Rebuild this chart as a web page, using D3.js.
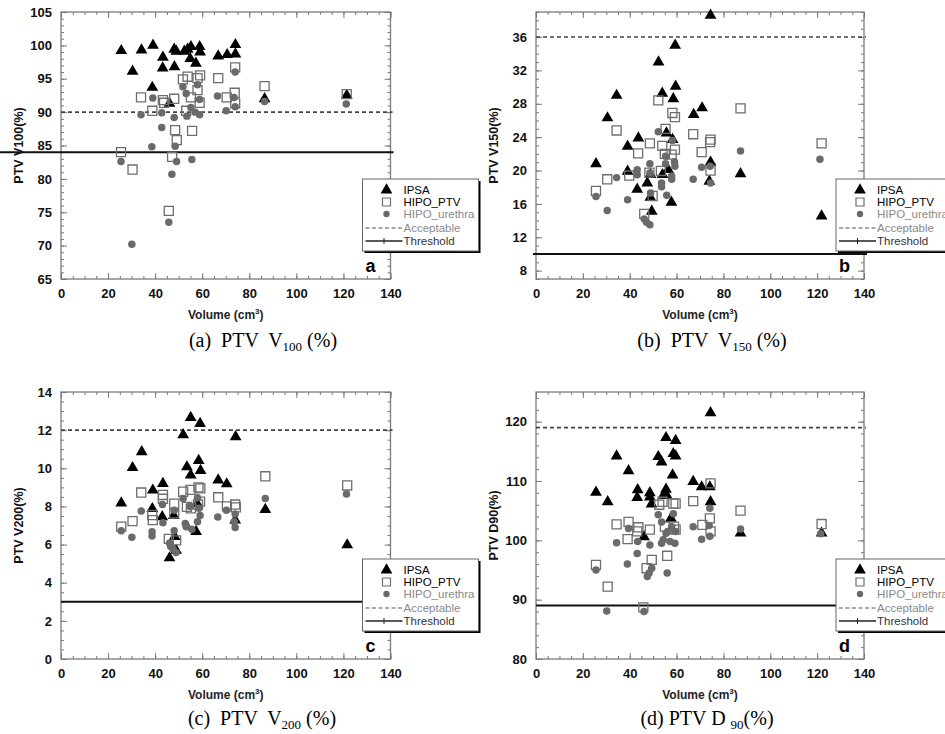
<!DOCTYPE html>
<html><head><meta charset="utf-8">
<script src="https://cdn.jsdelivr.net/npm/d3@7"></script>
<style>body{margin:0;background:#fff} svg{display:block}</style>
</head><body>
<svg id="chart" width="945" height="734"></svg>
<script>
// ---------- DATA ----------
const xTicks = [0,20,40,60,80,100,120,140];
const yTicksA = [65,70,75,80,85,90,95,100,105];
const yTicksB = [8,12,16,20,24,28,32,36];
const yTicksC = [0,2,4,6,8,10,12,14];
const yTicksD = [80,90,100,110,120];
const seriesNames = ["IPSA","HIPO_PTV","HIPO_urethra","Acceptable","Threshold"];

// Panel a: PTV V100 (%)  [volume, value]
const ipsaA = [[25.6,99.2],[30.4,96.1],[34.2,99.3],[39.1,100],[38.8,93.7],[43.3,98.2],[43.2,96.6],[46.1,91.3],[48.1,99.4],[49,99.1],[48.2,96.8],[52.4,99.1],[53.8,99.4],[55.2,99.8],[54.9,98],[57.3,97.3],[58.9,99.8],[59.1,99],[66.8,98.4],[70.6,98.6],[74.1,100.1],[74.1,98.7],[86.5,92.0],[121.4,92.5]];
const ptvA = [[25.5,84.0],[30.4,81.4],[34.0,92.2],[38.8,90.2],[43.3,91.8],[43.8,91.4],[48.1,92.0],[48.5,87.3],[49.2,85.8],[47.2,83.3],[45.8,75.2],[51.8,94.9],[53.8,95.3],[58,95.1],[59.1,95.5],[55.2,92.2],[58,93.3],[53.2,90.2],[55.7,87.2],[58.9,91.4],[66.8,95.1],[70.4,92.2],[74,96.7],[73.8,92.9],[74,91.3],[86.5,93.9],[121.4,92.7]];
const uretA = [[25.5,82.6],[30.1,70.2],[34,89.6],[38.6,84.8],[39,92.1],[42.8,89.9],[42.8,87.7],[47.1,80.7],[45.8,73.5],[48.1,89.2],[48.5,84.9],[49.1,82.6],[51.8,93.8],[53.2,92.8],[53.5,89.4],[55.2,90.7],[55.6,82.9],[57,90.0],[58,94.1],[58.9,91.9],[58.9,89.6],[66.5,92.4],[70.2,90.2],[73.5,92.2],[74,96.0],[74,90.8],[86.5,91.6],[121.2,91.2]];

// Panel b: PTV V150 (%)
const ipsaB = [[25.6,20.8],[30.5,26.3],[34.4,29.0],[39.1,22.9],[39.1,19.9],[43.7,23.9],[43.2,17.75],[47.5,18.5],[48.8,16.8],[49.4,15.1],[48.9,19.5],[52.3,33.0],[53.9,29.25],[54,19.5],[55.7,24.5],[58.6,28.6],[59.6,30.1],[59.4,35.0],[58.3,23.7],[57.8,16.2],[56.4,20.1],[67.3,26.7],[70.9,27.5],[74.5,38.6],[74.5,21.0],[74,18.7],[87.3,19.6],[121.9,14.55]];
const ptvB = [[25.6,17.55],[30.4,18.95],[34.4,24.8],[39.8,19.4],[43.6,22.05],[48.6,23.25],[46.2,14.8],[48.4,19.75],[49.8,16.95],[52.2,28.4],[53.9,22.95],[55.3,25.0],[55.0,22.0],[53.3,19.95],[58.2,26.9],[59.3,26.4],[59.3,22.5],[57.9,21.9],[67.1,24.35],[70.7,22.2],[74.5,23.7],[74.3,23.4],[74.5,20.0],[87.3,27.45],[121.9,23.25]];
const uretB = [[25.6,16.9],[30.4,15.2],[34.4,19.15],[39.1,16.5],[43.2,20.1],[43.2,19.5],[46.2,14.2],[47.2,13.8],[48.6,13.5],[48.6,20.8],[48.6,19.7],[48.9,17.3],[52.2,24.65],[53.6,18.5],[53.6,18.05],[55.3,21.7],[55.3,20.8],[55.8,17.05],[58.2,23.6],[59.1,21.05],[59.3,20.5],[57.9,18.95],[57.9,19.35],[67.1,18.95],[70.7,20.4],[74.5,18.5],[74.3,20.5],[87.3,22.35],[121.2,21.35]];

// Panel c: PTV V200 (%)
const ipsaC = [[25.6,8.18],[30.4,10.03],[34.3,10.86],[39,8.85],[38.8,7.88],[43.3,9.2],[43,7.45],[46.1,5.3],[47.9,7.52],[48.3,6.42],[48.9,5.7],[51.9,11.75],[53.5,10.07],[55.1,12.66],[55.1,9.64],[57.4,6.68],[58.5,10.4],[59.1,12.34],[59.3,9.88],[57.9,8.14],[66.8,9.38],[70.4,9.18],[74.2,11.65],[74,7.28],[86.8,7.84],[121.6,5.98]];
const ptvC = [[25.6,6.94],[30.4,7.23],[34.1,8.73],[38.8,7.55],[39,7.28],[43.3,8.6],[43.3,8.4],[48.1,8.15],[48.1,7.63],[45.8,6.3],[48.9,6.22],[51.9,8.77],[55,8.87],[58.4,9.0],[59.2,8.95],[53.5,7.98],[55.2,7.9],[58.2,8.1],[59.1,8.25],[66.8,8.48],[70.5,8.0],[74,8.1],[74.3,7.95],[86.8,9.58],[121.6,9.1]];
const uretC = [[25.6,6.73],[30.1,6.38],[34.1,7.76],[38.7,6.67],[38.7,6.45],[43.1,8.1],[43.3,7.14],[46.1,6.07],[46.6,5.9],[47.7,5.75],[48.9,5.58],[48.1,7.8],[48.1,6.73],[51.9,8.42],[52.8,7.1],[53.2,6.94],[53.2,7.0],[54.9,8.0],[55.6,6.8],[58,8.45],[58,7.2],[59.1,7.53],[58.6,7.9],[66.6,7.45],[70.3,7.8],[74,6.9],[74,7.6],[73.6,7.2],[86.8,8.42],[121.3,8.65]];

// Panel d: PTV D90 (%)
const ipsaD = [[25.6,108.1],[30.6,106.5],[34.4,114.2],[39.5,111.7],[43.4,108.5],[43.2,107.2],[48.6,108.0],[48.6,107.3],[49.3,106.1],[46.1,100.6],[52.2,114.1],[53.6,113.2],[55.5,117.3],[55.5,108.6],[54.4,107.6],[55.8,107.6],[59.6,116.8],[58.6,114.6],[59.6,114.2],[58.3,111.0],[57.6,103.7],[67.1,109.9],[70.7,109.0],[74.5,121.5],[74.2,109.0],[74.5,106.5],[87.3,101.2],[121.9,101.2]];
const ptvD = [[25.6,95.85],[30.6,92.2],[34.4,102.7],[39.5,103.1],[39.1,100.2],[43.7,102.2],[43.2,101.5],[48.6,101.8],[47.2,95.3],[49.4,96.7],[45.8,88.7],[52.6,106.0],[54,106.5],[56,97.4],[58.6,106.2],[59.6,106.2],[58.9,102.3],[59.6,101.8],[55,102.3],[67.1,106.6],[71,102.6],[74.5,109.6],[74.2,103.7],[74.5,101.5],[87.3,105.0],[121.9,102.75]];
const uretD = [[25.6,95.0],[30.2,88.1],[34.4,99.6],[39,96.0],[39.5,102.0],[43.4,99.8],[43.2,97.8],[46.1,88.0],[47.5,93.9],[48.3,94.5],[49.4,95.3],[48.6,99.2],[52.2,104.3],[53.6,103.1],[53.6,99.5],[54.3,100.1],[55.5,101.2],[56,94.5],[56.2,101.5],[57.9,102.3],[58.6,104.5],[57.2,99.8],[59.3,99.5],[59.6,101.5],[67.1,102.3],[70.7,100.2],[74.2,105.4],[73.9,102.5],[74.2,100.7],[87.3,101.9],[121.5,101.1]];

// reference lines: [acceptable, threshold]
const refA = [90, 84], refB = [36, 10], refC = [12, 3], refD = [119, 89];

// ---------- LAYOUT ----------
const panels = [
  {letter:'a', ipsa:ipsaA, ptv:ptvA, uret:uretA, ref:refA, yDomain:[65,105], yTicks:yTicksA, yMinor:1,
   yTitle:'PTV V100(%)', L:61, R:390.5, T:12, B:279, thrX0:0, cap:['(a)  PTV  V','100',' (%)'], capX:263, capY:347},
  {letter:'b', ipsa:ipsaB, ptv:ptvB, uret:uretB, ref:refB, yDomain:[7,39], yTicks:yTicksB, yMinor:1,
   yTitle:'PTV V150(%)', L:536, R:864, T:12, B:279, thrX0:533, cap:['(b)  PTV  V','150',' (%)'], capX:712, capY:347},
  {letter:'c', ipsa:ipsaC, ptv:ptvC, uret:uretC, ref:refC, yDomain:[0,14], yTicks:yTicksC, yMinor:0.5,
   yTitle:'PTV V200(%)', L:61, R:390.5, T:392, B:659, thrX0:61, cap:['(c)  PTV  V','200',' (%)'], capX:262, capY:725},
  {letter:'d', ipsa:ipsaD, ptv:ptvD, uret:uretD, ref:refD, yDomain:[80,125], yTicks:yTicksD, yMinor:2,
   yTitle:'PTV D90(%)', L:536, R:864, T:392, B:659, thrX0:536, cap:['(d) PTV D ','90','(%)'], capX:707, capY:725}
];

const svg = d3.select('#chart');
const FONT = 'Arial, "Liberation Sans", Helvetica, sans-serif';
const SERIF = '"Times New Roman", "Liberation Serif", serif';
const frameColor = '#7a7a7a';
const triSym = d3.symbol().type(d3.symbolTriangle).size(60);
const sqSym = d3.symbol().type(d3.symbolSquare).size(82);
const cirSym = d3.symbol().type(d3.symbolCircle).size(44);

panels.forEach(p => {
  const x = d3.scaleLinear().domain([0,140]).range([p.L, p.R]);
  const y = d3.scaleLinear().domain(p.yDomain).range([p.B, p.T]);
  const g = svg.append('g');

  const xMinor = d3.range(0, 140.001, 5);
  const yMinor = d3.range(p.yDomain[0], p.yDomain[1] + 1e-6, p.yMinor);

  function styleAxis(sel, labels) {
    sel.select('.domain').remove();
    sel.selectAll('line').attr('stroke', frameColor).attr('stroke-width', 1);
    sel.selectAll('text').attr('fill', '#111').style('font-family', FONT)
      .style('font-weight', 'bold').style('font-size', '13px');
    if (!labels) sel.selectAll('text').remove();
  }
  // bottom
  g.append('g').attr('transform', `translate(0,${p.B})`)
    .call(d3.axisBottom(x).tickValues(xMinor).tickSizeInner(-3).tickSizeOuter(0).tickFormat(''))
    .call(s => styleAxis(s, false));
  g.append('g').attr('transform', `translate(0,${p.B})`)
    .call(d3.axisBottom(x).tickValues(xTicks).tickSizeInner(-6).tickSizeOuter(0).tickPadding(10).tickFormat(d3.format('d')))
    .call(s => styleAxis(s, true));
  // top
  g.append('g').attr('transform', `translate(0,${p.T})`)
    .call(d3.axisTop(x).tickValues(xMinor).tickSizeInner(-3).tickSizeOuter(0).tickFormat(''))
    .call(s => styleAxis(s, false));
  g.append('g').attr('transform', `translate(0,${p.T})`)
    .call(d3.axisTop(x).tickValues(xTicks).tickSizeInner(-6).tickSizeOuter(0).tickFormat(''))
    .call(s => styleAxis(s, false));
  // left
  g.append('g').attr('transform', `translate(${p.L},0)`)
    .call(d3.axisLeft(y).tickValues(yMinor).tickSizeInner(-3).tickSizeOuter(0).tickFormat(''))
    .call(s => styleAxis(s, false));
  g.append('g').attr('transform', `translate(${p.L},0)`)
    .call(d3.axisLeft(y).tickValues(p.yTicks).tickSizeInner(-6).tickSizeOuter(0).tickPadding(9).tickFormat(d3.format('d')))
    .call(s => styleAxis(s, true));
  // right
  g.append('g').attr('transform', `translate(${p.R},0)`)
    .call(d3.axisRight(y).tickValues(yMinor).tickSizeInner(-3).tickSizeOuter(0).tickFormat(''))
    .call(s => styleAxis(s, false));
  g.append('g').attr('transform', `translate(${p.R},0)`)
    .call(d3.axisRight(y).tickValues(p.yTicks).tickSizeInner(-6).tickSizeOuter(0).tickFormat(''))
    .call(s => styleAxis(s, false));

  // frame
  g.append('rect').attr('x', p.L).attr('y', p.T).attr('width', p.R - p.L).attr('height', p.B - p.T)
    .attr('fill', 'none').attr('stroke', frameColor).attr('stroke-width', 1.3);

  // reference lines
  g.append('line').attr('x1', p.L).attr('x2', p.R + 2).attr('y1', y(p.ref[0])).attr('y2', y(p.ref[0]))
    .attr('stroke', '#444').attr('stroke-width', 1.6).attr('stroke-dasharray', '4,3');
  g.append('line').attr('x1', p.thrX0).attr('x2', p.R + 3).attr('y1', y(p.ref[1])).attr('y2', y(p.ref[1]))
    .attr('stroke', '#111').attr('stroke-width', 2);

  // points
  g.selectAll('.tri').data(p.ipsa).join('path').attr('class', 'tri')
    .attr('d', triSym).attr('transform', d => `translate(${x(d[0])},${y(d[1])})`).attr('fill', '#000');
  g.selectAll('.sq').data(p.ptv).join('path').attr('class', 'sq')
    .attr('d', sqSym).attr('transform', d => `translate(${x(d[0])},${y(d[1])})`)
    .attr('fill', 'none').attr('stroke', '#6e6e6e').attr('stroke-width', 1.3);
  g.selectAll('.cir').data(p.uret).join('path').attr('class', 'cir')
    .attr('d', cirSym).attr('transform', d => `translate(${x(d[0])},${y(d[1])})`).attr('fill', '#6a6a6a');

  // axis titles
  const xt = g.append('text').attr('x', (p.L + p.R) / 2).attr('y', p.B + 40).attr('text-anchor', 'middle')
    .style('font-family', FONT).style('font-weight', 'bold').style('font-size', '12px').attr('fill', '#222');
  xt.append('tspan').text('Volume (cm');
  xt.append('tspan').attr('dy', -5).style('font-size', '8px').text('3');
  xt.append('tspan').attr('dy', 5).text(')');
  g.append('text').attr('transform', `translate(${p.L - 42},${(p.T + p.B) / 2}) rotate(-90)`)
    .attr('text-anchor', 'middle').attr('dy', '0.35em')
    .style('font-family', FONT).style('font-weight', 'bold').style('font-size', '12.5px').attr('fill', '#111')
    .text(p.yTitle);

  // legend
  const lx = p.R - 28, ly = p.T + 167;
  const lg = g.append('g').attr('transform', `translate(${lx},${ly})`);
  lg.append('rect').attr('x', 2).attr('y', 2).attr('width', 116).attr('height', 72).attr('fill', '#000');
  lg.append('rect').attr('x', 0).attr('y', 0).attr('width', 116).attr('height', 72)
    .attr('fill', '#fff').attr('stroke', '#666').attr('stroke-width', 1);
  const rowY = [11, 23, 35, 49, 62];
  const txtCol = ['#000', '#000', '#8a8a8a', '#8a8a8a', '#333'];
  lg.append('path').attr('d', triSym).attr('transform', `translate(24,${rowY[0]})`).attr('fill', '#000');
  lg.append('path').attr('d', d3.symbol().type(d3.symbolSquare).size(64))
    .attr('transform', `translate(24,${rowY[1]})`).attr('fill', 'none').attr('stroke', '#6e6e6e').attr('stroke-width', 1.2);
  lg.append('path').attr('d', d3.symbol().type(d3.symbolCircle).size(32))
    .attr('transform', `translate(24,${rowY[2]})`).attr('fill', '#6a6a6a');
  lg.append('line').attr('x1', 3).attr('x2', 40).attr('y1', rowY[3]).attr('y2', rowY[3])
    .attr('stroke', '#555').attr('stroke-width', 1.2).attr('stroke-dasharray', '4,2.5');
  lg.append('line').attr('x1', 3).attr('x2', 40).attr('y1', rowY[4]).attr('y2', rowY[4])
    .attr('stroke', '#222').attr('stroke-width', 1.5);
  lg.append('line').attr('x1', 21.5).attr('x2', 21.5).attr('y1', rowY[4] - 3).attr('y2', rowY[4] + 3)
    .attr('stroke', '#222').attr('stroke-width', 1);
  seriesNames.forEach((n, i) => {
    lg.append('text').attr('x', 41).attr('y', rowY[i]).attr('dy', '0.35em').text(n)
      .style('font-family', FONT).style('font-size', '11.5px').attr('fill', txtCol[i]);
  });

  // panel letter
  g.append('text').attr('x', p.R - 25).attr('y', p.B - 7).text(p.letter)
    .style('font-family', FONT).style('font-weight', 'bold').style('font-size', '18px').attr('fill', '#000');

  // caption
  const ct = svg.append('text').attr('x', p.capX).attr('y', p.capY).attr('text-anchor', 'middle')
    .style('font-family', SERIF).style('font-size', '20px').attr('fill', '#000')
    .attr('xml:space', 'preserve').style('white-space', 'pre');
  ct.append('tspan').text(p.cap[0]);
  ct.append('tspan').attr('dy', 4).style('font-size', '13px').text(p.cap[1]);
  ct.append('tspan').attr('dy', -4).text(p.cap[2]);
});
</script>
</body></html>
